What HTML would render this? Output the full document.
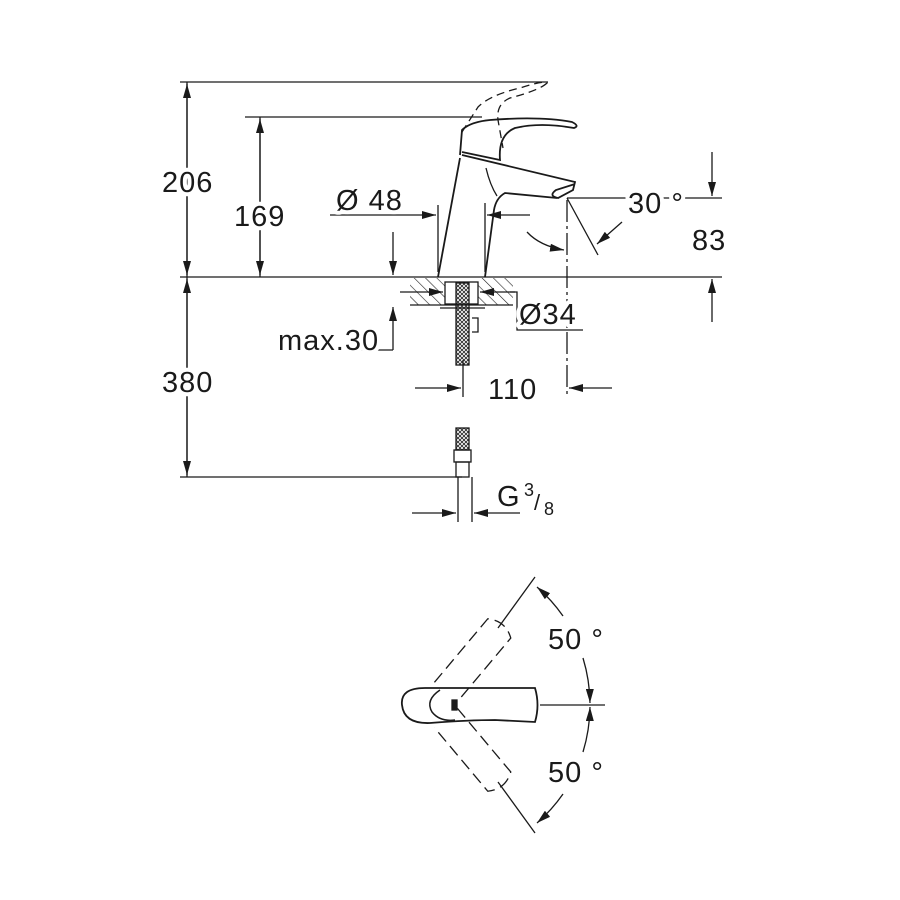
<!DOCTYPE html>
<html><head><style>
body{margin:0;background:#fff}
svg{display:block}
text{font-family:"Liberation Sans",sans-serif;font-size:29px;fill:#1a1a1a;letter-spacing:1px;stroke:#fff;stroke-width:8px;paint-order:stroke;stroke-linejoin:round}
</style></head><body>
<svg width="900" height="900" viewBox="0 0 900 900" xmlns="http://www.w3.org/2000/svg">
<defs>
<marker id="a" markerWidth="14" markerHeight="8" refX="14" refY="4" orient="auto" markerUnits="userSpaceOnUse"><path d="M0,0 L14,4 L0,8 Z" fill="#1a1a1a"/></marker>
<pattern id="h" width="8" height="8" patternUnits="userSpaceOnUse" patternTransform="rotate(-45)"><line x1="0" y1="0" x2="0" y2="8" stroke="#222" stroke-width="1.2"/></pattern>
<pattern id="z" width="4" height="4" patternUnits="userSpaceOnUse"><path d="M0,0 L4,4 M4,0 L0,4" stroke="#222" stroke-width="0.8"/></pattern>
</defs>
<g stroke="#1a1a1a" stroke-width="1.3" fill="none">
<line x1="180" y1="82" x2="548" y2="82"/>
<line x1="245" y1="117" x2="482" y2="117"/>
<line x1="180" y1="277" x2="722" y2="277"/>
<line x1="180" y1="477" x2="462" y2="477"/>
<line x1="187" y1="277" x2="187" y2="84" marker-end="url(#a)"/>
<line x1="187" y1="82" x2="187" y2="275" marker-end="url(#a)"/>
<line x1="260" y1="277" x2="260" y2="119" marker-end="url(#a)"/>
<line x1="260" y1="117" x2="260" y2="275" marker-end="url(#a)"/>
<line x1="187" y1="477" x2="187" y2="279" marker-end="url(#a)"/>
<line x1="187" y1="277" x2="187" y2="475" marker-end="url(#a)"/>
<line x1="330" y1="215" x2="436" y2="215" marker-end="url(#a)"/>
<line x1="530" y1="215" x2="487" y2="215" marker-end="url(#a)"/>
<line x1="438" y1="205" x2="438" y2="272"/>
<line x1="485" y1="203" x2="485" y2="272"/>
<line x1="567" y1="198" x2="722" y2="198"/>
<line x1="567" y1="198" x2="598" y2="255"/>
<line x1="567" y1="200" x2="567" y2="398" stroke-dasharray="22,4,3,4"/>
<line x1="622" y1="222" x2="597" y2="244" marker-end="url(#a)"/>
<path d="M527,232 Q540,246 564,250" marker-end="url(#a)"/>
<line x1="712" y1="152" x2="712" y2="196" marker-end="url(#a)"/>
<line x1="712" y1="322" x2="712" y2="279" marker-end="url(#a)"/>
<line x1="393" y1="232" x2="393" y2="275" marker-end="url(#a)"/>
<line x1="393" y1="350" x2="393" y2="307" marker-end="url(#a)"/>
<line x1="278" y1="350" x2="393" y2="350"/>
<rect x="410" y="278" width="35" height="27" fill="url(#h)" stroke="none"/>
<rect x="478" y="278" width="35" height="27" fill="url(#h)" stroke="none"/>
<line x1="410" y1="305" x2="513" y2="305"/>
<rect x="445" y="282" width="33" height="22"/>
<line x1="440" y1="308" x2="485" y2="308"/>
<line x1="400" y1="292" x2="443" y2="292" marker-end="url(#a)"/>
<line x1="515" y1="292" x2="480" y2="292" marker-end="url(#a)"/>
<path d="M510,292 H517 V330 H583"/>
<rect x="456" y="283" width="13" height="82" fill="url(#z)"/>
<path d="M472,318 h6 v14 h-6"/>
<rect x="456" y="428" width="13" height="22" fill="url(#z)"/>
<rect x="454" y="450" width="17" height="12"/>
<rect x="456" y="462" width="13" height="15"/>
<line x1="463" y1="360" x2="463" y2="397"/>
<line x1="415" y1="388" x2="461" y2="388" marker-end="url(#a)"/>
<line x1="612" y1="388" x2="569" y2="388" marker-end="url(#a)"/>
<line x1="458" y1="477" x2="458" y2="522"/>
<line x1="472" y1="477" x2="472" y2="522"/>
<line x1="412" y1="513" x2="456" y2="513" marker-end="url(#a)"/>
<line x1="520" y1="513" x2="474" y2="513" marker-end="url(#a)"/>
<path d="M438,277 L460,158" stroke-width="1.8"/>
<path d="M485,277 L494,210 Q496,198 505,193 L557,198" stroke-width="1.8"/>
<path d="M486,168 Q490,185 497,196" />
<path d="M462,155 L575,182 L573,190 L558,198 Q548,196 556,190 L575,184" stroke-width="1.8"/>
<path d="M460,155 L462,130 Q470,122 490,120 Q540,116 572,122 Q580,126 574,128 Q540,122 515,128 Q498,135 500,160 L462,152" stroke-width="1.8"/>
<path d="M462,132 L478,107 Q490,95 520,88 Q545,80 547,83 Q540,90 510,98 Q496,104 498,120 L503,148" stroke-dasharray="8,5"/>
<path d="M425,688 Q400,688 402,705 Q404,724 430,723 Q470,720 495,720 L535,722 Q540,705 535,688 L495,688 Q470,688 425,688 Z" stroke-width="1.8"/>
<path d="M440,690 Q425,700 432,712 Q440,722 455,720" stroke-width="1.5"/>
<rect x="452" y="700" width="5" height="10" fill="#1a1a1a"/>
<g transform="rotate(-50 435 705)" stroke-dasharray="12,6"><path d="M452,690 L535,690 Q545,705 535,720 L452,720"/></g>
<g transform="rotate(50 435 705)" stroke-dasharray="12,6"><path d="M452,690 L535,690 Q545,705 535,720 L452,720"/></g>
<line x1="498" y1="628" x2="535" y2="577"/>
<line x1="498" y1="782" x2="535" y2="833"/>
<line x1="540" y1="705" x2="605" y2="705"/>
<path d="M563,616 A162,162 0 0 0 537,587" marker-end="url(#a)"/>
<path d="M583,658 A162,162 0 0 1 590,703" marker-end="url(#a)"/>
<path d="M583,752 A162,162 0 0 0 590,707" marker-end="url(#a)"/>
<path d="M563,794 A162,162 0 0 1 537,823" marker-end="url(#a)"/>
</g>
<text x="162" y="192">206</text>
<text x="234" y="226">169</text>
<text x="162" y="392">380</text>
<text x="336" y="210">Ø 48</text>
<text x="628" y="213">30 °</text>
<text x="692" y="250">83</text>
<text x="519" y="324">Ø34</text>
<text x="278" y="350">max.30</text>
<text x="488" y="399">110</text>
<text x="497" y="506">G</text>
<text x="524" y="496" style="font-size:18px">3</text>
<text x="534" y="510" style="font-size:22px">/</text>
<text x="544" y="515" style="font-size:18px">8</text>
<text x="548" y="649">50 °</text>
<text x="548" y="782">50 °</text>
</svg>
</body></html>
